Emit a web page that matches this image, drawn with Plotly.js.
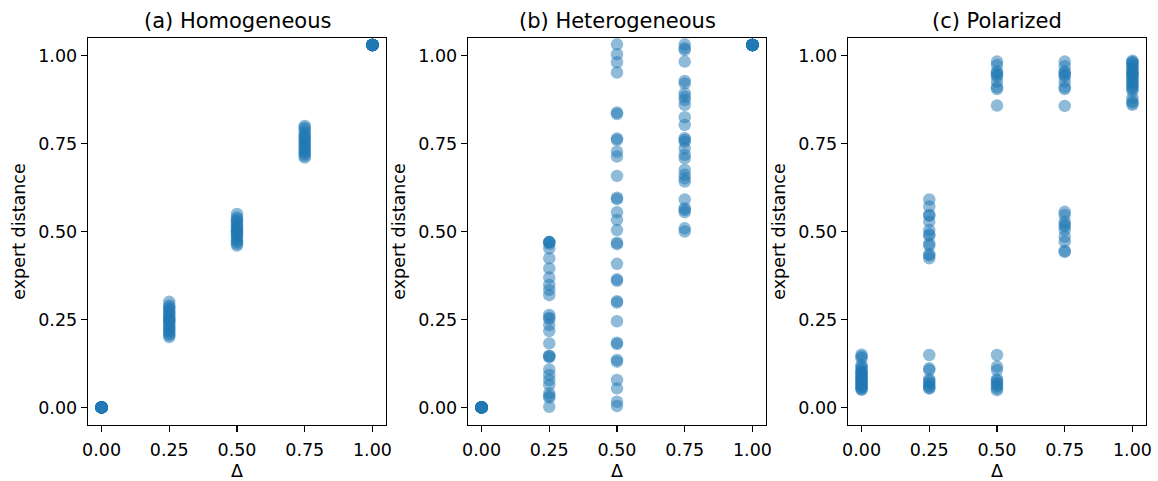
<!DOCTYPE html>
<html>
<head>
<meta charset="utf-8">
<script src="https://cdn.plot.ly/plotly-3.0.1.min.js"></script>
<style>html,body{margin:0;padding:0;background:#fff;}#chart{width:1158px;height:481px;}</style>
</head>
<body>
<div id="chart"></div>
<script>
// ---- data ----
const deltaLevels = [0, 0.25, 0.5, 0.75, 1.0];
const tickVals = [0, 0.25, 0.5, 0.75, 1.0];
const tickLabels = ["0.00", "0.25", "0.50", "0.75", "1.00"];
const panelTitles = ["(a) Homogeneous", "(b) Heterogeneous", "(c) Polarized"];
const xLabel = "Δ";
const yLabel = "expert distance";

// (a) Homogeneous
const homo_000 = [0,0,0,0,0,0,0,0,0,0,0,0,0,0,0,0,0,0,0,0];
const homo_025 = [0.30,0.29,0.285,0.28,0.275,0.27,0.265,0.26,0.255,0.25,0.25,0.245,0.24,0.235,0.23,0.225,0.22,0.215,0.21,0.205,0.20];
const homo_050 = [0.55,0.54,0.535,0.53,0.525,0.52,0.515,0.51,0.505,0.50,0.50,0.495,0.49,0.485,0.48,0.475,0.47,0.465,0.46];
const homo_075 = [0.80,0.795,0.79,0.78,0.775,0.77,0.765,0.76,0.755,0.75,0.745,0.74,0.735,0.73,0.725,0.72,0.715,0.71];
const homo_100 = [1.03,1.03,1.03,1.03,1.03,1.03,1.03,1.03,1.03,1.03,1.03,1.03,1.03,1.03,1.03,1.03,1.03,1.03,1.03,1.03];

// (b) Heterogeneous
const hetero_000 = [0,0,0,0,0,0,0,0,0,0,0,0,0,0,0,0,0,0,0,0];
const hetero_025 = [0.47,0.47,0.47,0.465,0.452,0.424,0.395,0.369,0.348,0.334,0.319,0.263,0.255,0.251,0.234,0.217,0.182,0.146,0.146,0.142,0.108,0.092,0.078,0.064,0.040,0.032,0.028,0.002];
const hetero_050 = [1.032,1.004,0.981,0.952,0.838,0.834,0.764,0.760,0.727,0.713,0.658,0.596,0.592,0.555,0.533,0.504,0.468,0.464,0.408,0.364,0.360,0.302,0.298,0.245,0.184,0.180,0.135,0.130,0.078,0.054,0.016,0.004];
const hetero_075 = [1.032,1.021,1.016,0.983,0.928,0.921,0.893,0.883,0.874,0.860,0.825,0.803,0.765,0.760,0.755,0.736,0.718,0.708,0.675,0.661,0.651,0.642,0.591,0.566,0.561,0.555,0.509,0.500];
const hetero_100 = [1.03,1.03,1.03,1.03,1.03,1.03,1.03,1.03,1.03,1.03,1.03,1.03,1.03,1.03,1.03,1.03,1.03,1.03,1.03,1.03];

// (c) Polarized
const polar_000 = [0.15,0.145,0.14,0.12,0.115,0.11,0.105,0.10,0.098,0.095,0.09,0.088,0.085,0.08,0.078,0.075,0.07,0.068,0.065,0.06,0.058,0.055,0.052,0.05];
const polar_025 = [0.591,0.571,0.547,0.545,0.528,0.504,0.492,0.488,0.465,0.460,0.435,0.432,0.424,0.149,0.111,0.106,0.080,0.075,0.070,0.065,0.060,0.055,0.054];
const polar_050 = [0.983,0.973,0.955,0.950,0.945,0.940,0.926,0.910,0.905,0.858,0.149,0.116,0.106,0.080,0.076,0.070,0.065,0.060,0.054,0.049];
const polar_075 = [0.983,0.970,0.955,0.950,0.945,0.940,0.926,0.910,0.905,0.857,0.556,0.547,0.528,0.520,0.514,0.504,0.485,0.471,0.445,0.442];
const polar_100 = [0.985,0.982,0.98,0.975,0.97,0.965,0.96,0.955,0.95,0.948,0.945,0.94,0.935,0.93,0.925,0.92,0.915,0.91,0.905,0.90,0.88,0.87,0.865,0.86];

const panelColumns = [
  [homo_000, homo_025, homo_050, homo_075, homo_100],
  [hetero_000, hetero_025, hetero_050, hetero_075, hetero_100],
  [polar_000, polar_025, polar_050, polar_075, polar_100]
];

// ---- layout geometry ----
const W = 1158, H = 481;
const pxL = [88, 468, 848], pxW = 298;
const yTop = 38, yBot = 425;
const FONT = "DejaVu Sans, Liberation Sans, sans-serif";

const traces = [];
const layout = {
  width: W, height: H,
  margin: {l: 0, r: 0, t: 0, b: 0},
  paper_bgcolor: "#fff", plot_bgcolor: "#fff",
  showlegend: false,
  font: {family: FONT, size: 17.5, color: "#000"},
  annotations: []
};

panelColumns.forEach((cols, i) => {
  const xs = [], ys = [];
  cols.forEach((vals, j) => {
    vals.forEach(v => { xs.push(deltaLevels[j]); ys.push(v); });
  });
  const sfx = i === 0 ? "" : String(i + 1);
  traces.push({
    type: "scatter", mode: "markers",
    x: xs, y: ys,
    xaxis: "x" + sfx, yaxis: "y" + sfx,
    marker: {size: 12.5, color: "#1f77b4", opacity: 0.5, line: {width: 0}},
    hoverinfo: "skip"
  });
  const common = {
    range: [-0.05, 1.05],
    tickmode: "array", tickvals: tickVals, ticktext: tickLabels,
    showgrid: false, zeroline: false,
    showline: true, mirror: true, linecolor: "#000", linewidth: 1.3,
    ticks: "outside", ticklen: 6, tickwidth: 1.3, tickcolor: "#000",
    tickfont: {family: FONT, size: 17.5, color: "#000"}
  };
  layout["xaxis" + sfx] = Object.assign({}, common, {
    domain: [pxL[i] / W, (pxL[i] + pxW) / W],
    anchor: "y" + sfx,
    ticklabelstandoff: 3,
    title: {text: xLabel, font: {family: FONT, size: 17.5, color: "#000"}, standoff: 7}
  });
  layout["yaxis" + sfx] = Object.assign({}, common, {
    domain: [1 - yBot / H, 1 - yTop / H],
    anchor: "x" + sfx,
    title: {text: yLabel, font: {family: FONT, size: 17.5, color: "#000"}, standoff: 8}
  });
  layout.annotations.push({
    text: panelTitles[i], xref: "paper", yref: "paper",
    x: (pxL[i] + pxW / 2) / W, y: 1 - 21 / H,
    xanchor: "center", yanchor: "middle", showarrow: false,
    font: {family: FONT, size: 21, color: "#000"}
  });
});

Plotly.newPlot("chart", traces, layout, {staticPlot: true, displayModeBar: false});
</script>
</body>
</html>
